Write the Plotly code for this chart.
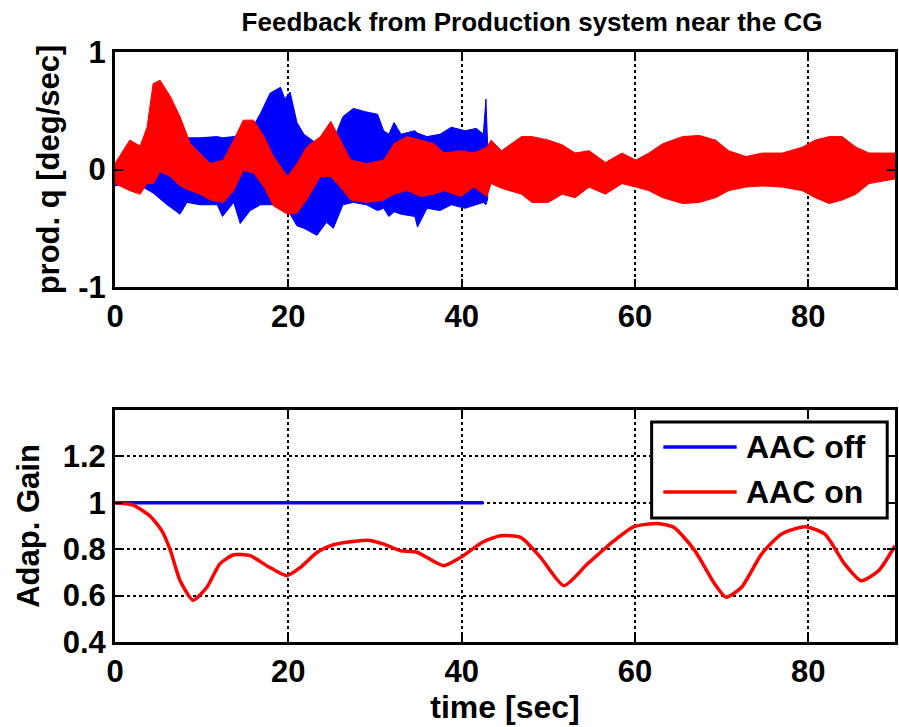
import plotly.graph_objects as go
from plotly.subplots import make_subplots

# ---- data ----
# Top panel: envelope (upper / lower bounds) of the noisy pitch-rate traces
BLUE_T = [0, 1, 2.5, 4.4, 6, 7.5, 8.3, 9.8, 11.8, 12.4, 13.7, 14.45, 15.6, 16.8, 17.9, 19.1, 19.6, 20.2, 21.0, 21.8,
          23.3, 24.4, 25.2, 26.3, 27.5, 29.0, 30.3, 31.0, 31.6, 32.2, 33.0, 34.6, 34.9, 36.0, 37.5, 38.8, 40.4, 41.7,
          42.5, 42.8, 43.0]
BLUE_HI = [0.05, 0.10, 0.12, 0.18, 0.25, 0.26, 0.27, 0.27, 0.28, 0.27, 0.28, 0.30, 0.32, 0.48, 0.65, 0.70, 0.60, 0.66,
           0.40, 0.30, 0.22, 0.24, 0.25, 0.45, 0.52, 0.49, 0.47, 0.33, 0.30, 0.40, 0.30, 0.33, 0.31, 0.28, 0.30, 0.36,
           0.33, 0.35, 0.30, 0.60, 0.20]
BLUE_LO = [-0.14, -0.12, -0.12, -0.20, -0.30, -0.38, -0.28, -0.30, -0.30, -0.40, -0.28, -0.46, -0.35, -0.30, -0.30,
           -0.30, -0.32, -0.38, -0.48, -0.50, -0.56, -0.45, -0.50, -0.30, -0.28, -0.30, -0.35, -0.33, -0.40, -0.36,
           -0.38, -0.40, -0.49, -0.33, -0.35, -0.30, -0.33, -0.30, -0.28, -0.30, -0.25]

RED_T = [0, 1.7, 2.9, 3.7, 4.4, 5.2, 6.4, 7.5, 8.7, 9.8, 11.0, 12.5, 13.7, 14.8, 16.0, 17.2, 18.3, 19.9, 21.0, 22.1,
         23.7, 24.9, 26.0, 27.2, 29.1, 31.0, 32.2, 33.7, 35.3, 36.8, 38.0, 39.9, 41.4, 42.9, 43.4, 44.6, 46.9, 48.1,
         50.0, 51.6, 53.1, 54.7, 56.6, 58.5, 60.1, 61.6, 63.2, 65.5, 67.4, 69.3, 70.8, 72.8, 74.7, 77.0, 79.3, 80.8,
         82.4, 83.9, 85.5, 87.0, 88.6, 90.0]
RED_HI = [0.05, 0.25, 0.20, 0.36, 0.73, 0.76, 0.62, 0.45, 0.22, 0.14, 0.05, 0.08, 0.25, 0.42, 0.42, 0.28, 0.11, -0.06,
          0.05, 0.19, 0.28, 0.41, 0.25, 0.08, 0.05, 0.08, 0.22, 0.28, 0.25, 0.22, 0.14, 0.16, 0.14, 0.19, 0.25, 0.16,
          0.28, 0.28, 0.25, 0.21, 0.14, 0.16, 0.06, 0.14, 0.08, 0.14, 0.22, 0.28, 0.29, 0.25, 0.16, 0.11, 0.14, 0.14,
          0.19, 0.25, 0.28, 0.28, 0.19, 0.14, 0.14, 0.14]
RED_LO = [-0.12, -0.18, -0.21, -0.12, -0.12, -0.02, -0.06, -0.14, -0.18, -0.21, -0.26, -0.28, -0.18, -0.01, -0.03,
          -0.15, -0.31, -0.38, -0.37, -0.26, -0.06, -0.06, -0.15, -0.26, -0.28, -0.26, -0.21, -0.18, -0.23, -0.21,
          -0.18, -0.23, -0.15, -0.23, -0.12, -0.16, -0.21, -0.28, -0.28, -0.21, -0.24, -0.15, -0.21, -0.12, -0.15,
          -0.18, -0.24, -0.29, -0.28, -0.24, -0.18, -0.15, -0.14, -0.15, -0.18, -0.24, -0.29, -0.26, -0.21, -0.12,
          -0.10, -0.08]

# Bottom panel: adaptive gain
GAIN_OFF_T = [0, 42.5]
GAIN_OFF = [1.0, 1.0]
GAIN_ON_T = [0, 2.1, 4.0, 5.4, 6.4, 7.5, 9.0, 10.6, 12.1, 13.7, 15.6, 17.5, 19.8, 21.4, 23.3, 25.2, 29.1, 31.0, 32.9,
             34.9, 37.9, 39.9, 42.4, 44.5, 46.8, 49.1, 51.8, 54.5, 57.6, 59.9, 62.6, 64.5, 66.9, 69.2, 70.5, 72.3,
             74.6, 76.9, 79.6, 81.9, 84.2, 86.1, 88.1, 90.0]
GAIN_ON = [1.0, 0.99, 0.944, 0.88, 0.794, 0.665, 0.58, 0.636, 0.737, 0.776, 0.772, 0.729, 0.686, 0.722, 0.786, 0.819,
           0.839, 0.822, 0.794, 0.786, 0.729, 0.765, 0.83, 0.858, 0.851, 0.765, 0.643, 0.736, 0.837, 0.897, 0.911,
           0.894, 0.794, 0.65, 0.593, 0.636, 0.779, 0.865, 0.897, 0.865, 0.736, 0.664, 0.707, 0.815]

X_TICKS = [0, 20, 40, 60, 80]
TOP_Y_TICKS = [-1, 0, 1]
TOP_Y_LABELS = ["-1", "0", "1"]
BOT_Y_TICKS = [0.4, 0.6, 0.8, 1.0, 1.2, 1.4]
BOT_Y_LABELS = ["0.4", "0.6", "0.8", "1", "1.2", ""]

TITLE = "Feedback from Production system near the CG"
LEGEND_NAMES = ["AAC off", "AAC on"]
BLUE = "#0000FF"
RED = "#FF0000"

FONT = "Liberation Sans, Arial, sans-serif"

fig = make_subplots(rows=2, cols=1, vertical_spacing=0.05)

# top panel bands
fig.add_trace(go.Scatter(x=BLUE_T + BLUE_T[::-1], y=BLUE_HI + BLUE_LO[::-1], fill="toself", fillcolor=BLUE,
                         mode="lines", line=dict(color=BLUE, width=1), showlegend=False, hoverinfo="skip"),
              row=1, col=1)
fig.add_trace(go.Scatter(x=RED_T + RED_T[::-1], y=RED_HI + RED_LO[::-1], fill="toself", fillcolor=RED,
                         mode="lines", line=dict(color=RED, width=1), showlegend=False, hoverinfo="skip"),
              row=1, col=1)

# bottom panel gain
fig.add_trace(go.Scatter(x=GAIN_OFF_T, y=GAIN_OFF, mode="lines", name=LEGEND_NAMES[0],
                         line=dict(color=BLUE, width=3.5), showlegend=False), row=2, col=1)
fig.add_trace(go.Scatter(x=GAIN_ON_T, y=GAIN_ON, mode="lines", name=LEGEND_NAMES[1],
                         line=dict(color=RED, width=3.5, shape="spline", smoothing=0.6), showlegend=False),
              row=2, col=1)

tickfont = dict(family=FONT, size=31, color="black", weight="bold")
axis_common = dict(showline=True, linecolor="black", linewidth=3, mirror="ticks",
                   ticks="inside", ticklen=8, tickwidth=2, tickcolor="black",
                   showgrid=True, gridcolor="black", griddash="dot", gridwidth=2,
                   zeroline=False, tickfont=tickfont)

fig.update_xaxes(range=[0, 90], tickvals=X_TICKS, domain=[0, 1], **axis_common)
fig.update_yaxes(**axis_common)
fig.update_layout(
    xaxis=dict(domain=[0, 1]),
    yaxis=dict(range=[-1, 1], tickvals=TOP_Y_TICKS, ticktext=TOP_Y_LABELS, domain=[0.6017, 1.0],
               title=dict(text="prod. q [deg/sec]", font=dict(family=FONT, size=31, color="black", weight="bold"),
                          standoff=10)),
    xaxis2=dict(domain=[0, 1],
                title=dict(text="time [sec]", font=dict(family=FONT, size=32, color="black", weight="bold"),
                           standoff=2)),
    yaxis2=dict(range=[0.4, 1.4], tickvals=BOT_Y_TICKS, ticktext=BOT_Y_LABELS, domain=[0.0, 0.3932],
                title=dict(text="Adap. Gain", font=dict(family=FONT, size=31, color="black", weight="bold"),
                           standoff=14)),
)

# legend drawn as a boxed key in the bottom panel
fig.add_shape(type="rect", xref="x2 domain", yref="y2 domain", x0=0.688, x1=0.990, y0=0.534, y1=0.948,
              line=dict(color="black", width=3), fillcolor="white", layer="above")
for name, col, yy in [(LEGEND_NAMES[0], BLUE, 0.841), (LEGEND_NAMES[1], RED, 0.647)]:
    fig.add_shape(type="line", xref="x2 domain", yref="y2 domain", x0=0.703, x1=0.797, y0=yy, y1=yy,
                  line=dict(color=col, width=3.5), layer="above")
    fig.add_annotation(xref="x2 domain", yref="y2 domain", x=0.806, y=yy, text=name, showarrow=False,
                       xanchor="left", yanchor="middle",
                       font=dict(family=FONT, size=32, color="black", weight="bold"))

fig.update_layout(
    width=899, height=727,
    margin=dict(l=115, r=4, t=52, b=85, autoexpand=False),
    paper_bgcolor="white", plot_bgcolor="white",
    title=dict(text=TITLE, xref="container", yref="container", x=532 / 899, y=1 - 22 / 727,
               xanchor="center", yanchor="middle",
               font=dict(family=FONT, size=26, color="black", weight="bold")),
    showlegend=False,
)

fig.write_html("out.html")
